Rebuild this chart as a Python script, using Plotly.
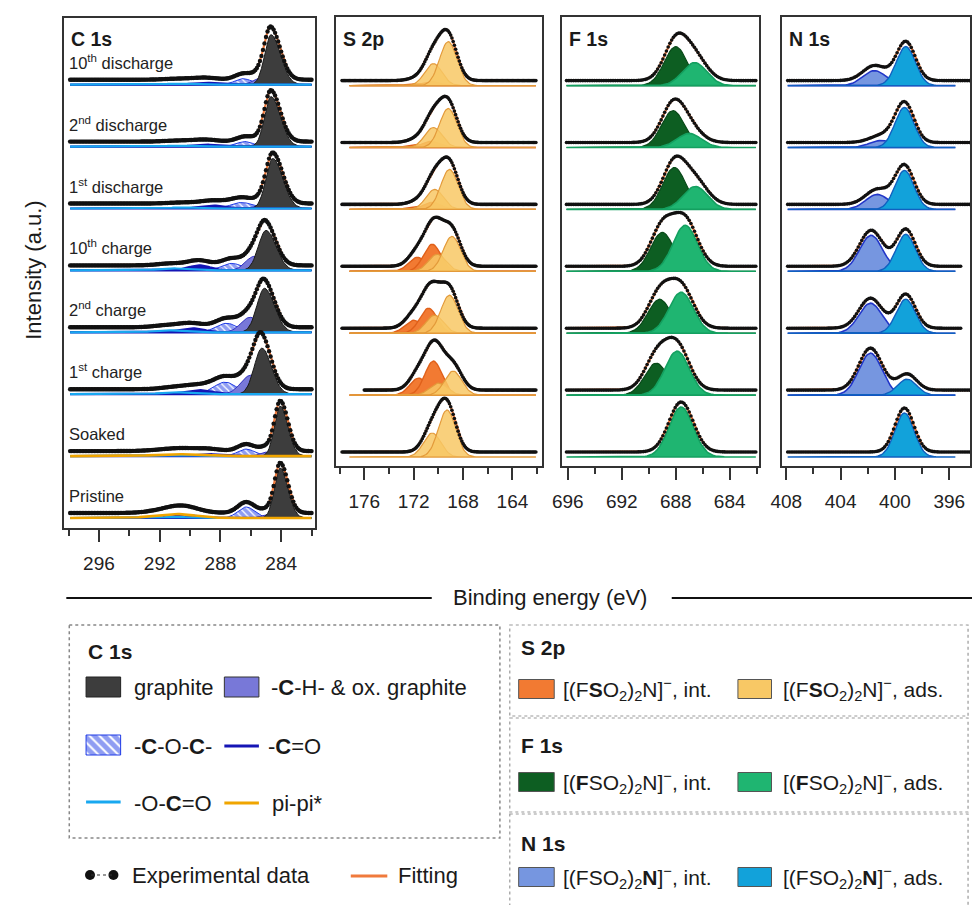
import numpy as np
import plotly.graph_objects as go

FONT = "Liberation Sans, Arial, Helvetica, sans-serif"
W, H = 972, 905

# ---------------- data (rows listed top -> bottom) ----------------
C_LABELS = ["10<sup>th</sup> discharge", "2<sup>nd</sup> discharge", "1<sup>st</sup> discharge",
            "10<sup>th</sup> charge", "2<sup>nd</sup> charge", "1<sup>st</sup> charge", "Soaked", "Pristine"]

# C 1s components: binding energy (eV), intensity (a.u.), widths (eV)
C_GRAPH_E = [284.67, 284.67, 284.55, 285.00, 285.10, 285.27, 284.06, 284.06]
C_GRAPH_I = [50, 50, 50, 40, 44, 46, 50, 50]
C_GRAPH_SH = [0.42, 0.42, 0.45, 0.50, 0.50, 0.50, 0.38, 0.38]
C_GRAPH_SL = [0.62, 0.62, 0.65, 0.65, 0.65, 0.62, 0.50, 0.50]
C_CH_E = [285.30, 285.30, 285.30, 285.80, 286.05, 286.00, 285.00, 285.00]
C_CH_I = [7, 3, 3, 14, 15, 19, 4, 3]
C_CH_S = [0.50, 0.50, 0.50, 0.55, 0.60, 0.65, 0.40, 0.40]
C_COC_E = [286.50, 286.40, 286.60, 287.25, 287.60, 287.70, 286.30, 286.30]
C_COC_I = [6, 5, 6, 7, 9, 12, 7, 11]
C_COC_S = [0.55, 0.55, 0.70, 0.65, 0.70, 0.75, 0.55, 0.55]
C_CO_E = [289.0, 289.0, 288.5, 289.4, 289.9, 289.4, 288.8, 290.3]
C_CO_I = [2, 2, 3, 5, 4, 4, 2, 3]
C_CO_S = [0.8, 0.8, 0.8, 0.7, 0.8, 0.9, 0.8, 0.9]
C_OCO_E = [290.8, 290.8, 290.5, 291.2, 291.5, 291.0, 290.5, 291.0]
C_OCO_I = [1, 1, 1, 2, 2, 2, 1, 1]
C_OCO_S = [0.9, 0.9, 0.9, 0.9, 0.9, 0.9, 0.9, 0.9]
C_PI_E = [None, None, None, None, None, None, 291.0, 291.0]
C_PI_I = [None, None, None, None, None, None, 2, 4]
C_PI_S = [None, None, None, None, None, None, 1.3, 1.3]

# S 2p doublets (rows: 10th dis, 2nd dis, 1st dis, 10th ch, 2nd ch, 1st ch, soaked)
S_ADS32_E = [169.2, 169.2, 169.1, 168.9, 169.1, 168.8, 169.3]
S_ADS32_I = [44, 39, 40, 35, 38, 24, 47]
S_ADS12_E = [170.4, 170.4, 170.3, 170.1, 170.3, 170.0, 170.5]
S_ADS12_I = [22, 20, 20, 17, 18, 12, 24]
S_INT32_E = [170.6, 170.6, 170.5, 170.5, 170.8, 170.4, None]
S_INT32_I = [4, 6, 7, 27, 25, 34, None]
S_INT12_E = [171.8, 171.8, 171.7, 171.7, 172.0, 171.6, None]
S_INT12_I = [2, 3, 3, 14, 13, 17, None]
S_SIGMA = 0.7
S_DATA_START = [177.8, 177.8, 177.8, 177.8, 177.8, 176.0, 177.8]

# F 1s
F_INT_E = [688.0, 688.2, 688.1, 689.0, 689.2, 689.45, None]
F_INT_I = [39, 37, 42, 39, 34, 32, None]
F_ADS_E = [686.6, 687.0, 686.55, 687.3, 687.6, 687.9, 687.6]
F_ADS_I = [23, 14, 23, 46, 41, 44, 50]
F_SIG_INT, F_SIG_ADS = 0.85, 0.9

# N 1s
N_INT_E = [401.5, 401.0, 401.3, 401.75, 401.8, 401.8, None]
N_INT_I = [15, 7, 15, 36, 30, 42, None]
N_ADS_E = [399.2, 399.3, 399.3, 399.2, 399.2, 399.1, 399.3]
N_ADS_I = [39, 40, 39, 37, 34, 16, 44]
N_SIG_INT, N_SIG_ADS = 0.85, 0.7
N_DATA_END = [394.5, 394.5, 394.5, 395.1, 395.1, 394.5, 394.5]

# ---------------- styling constants ----------------
STEP = 61.9     # vertical offset between stacked spectra
LIFT = 5        # data/fit drawn slightly above the components
FIT_COL = "#f07a3c"
COL = dict(graph=("#3d3d3d", "#1a1a1a"), ch=("#7878d8", "#3030c0"), coc=("#1f3be6", "#1f3be6"),
           co="#1515b5", oco="#18a8f0", pi="#f0a500",
           s_ads=("#f8c865", "#e39a3a"), s_int=("#f27a32", "#e0601a"),
           f_int=("#0d5e22", "#0a4a1a"), f_ads=("#1fb571", "#14a060"),
           n_int=("#7696e0", "#2236c8"), n_ads=("#12a2da", "#1060c0"))


def gauss(x, c, h, s_hi, s_lo=None):
    if s_lo is None:
        s_lo = s_hi
    s = np.where(x > c, s_hi, s_lo)
    return h * np.exp(-((x - c) ** 2) / (2 * s ** 2))


fig = go.Figure()
ann = []
shapes = []


def area(n, x, base, y, fill, line, lw=1.0, pattern=None):
    xs = np.concatenate([x, x[::-1]])
    ys = np.concatenate([base + y, np.full(len(x), base)])
    fig.add_trace(go.Scatter(x=xs, y=ys, mode="lines", fill="toself", fillcolor=fill,
                             line=dict(color=line, width=lw), fillpattern=pattern,
                             xaxis=f"x{n}", yaxis=f"y{n}", hoverinfo="skip", showlegend=False))


def curve(n, x, y, color, lw):
    fig.add_trace(go.Scatter(x=x, y=y, mode="lines", line=dict(color=color, width=lw),
                             xaxis=f"x{n}", yaxis=f"y{n}", hoverinfo="skip", showlegend=False))


def data(n, x, y, dense=False):
    fig.add_trace(go.Scatter(x=x, y=y, mode="lines", line=dict(color=FIT_COL, width=2.2),
                             xaxis=f"x{n}", yaxis=f"y{n}", hoverinfo="skip", showlegend=False))
    fig.add_trace(go.Scatter(x=x, y=y, mode="markers",
                             marker=dict(color="#111", size=4.4 if dense else 3.6),
                             xaxis=f"x{n}", yaxis=f"y{n}", hoverinfo="skip", showlegend=False))


HATCH = dict(shape="\\", fgcolor=COL["coc"][0], bgcolor="white", size=5, solidity=0.75)

# ---------------- C 1s ----------------
nC = len(C_LABELS)
xc = np.arange(297.9, 281.95, -0.1)
for i in range(nC):
    base = 15 + (nC - 1 - i) * STEP
    cb = base - LIFT
    env = np.zeros_like(xc)
    g = gauss(xc, C_COC_E[i], C_COC_I[i], C_COC_S[i]); env += g
    area(1, xc, cb, g, "white", COL["coc"][1], 1.0, pattern=HATCH)
    g = gauss(xc, C_CH_E[i], C_CH_I[i], C_CH_S[i]); env += g
    area(1, xc, cb, g, COL["ch"][0], COL["ch"][1], 1.0)
    g = gauss(xc, C_GRAPH_E[i], C_GRAPH_I[i], C_GRAPH_SH[i], C_GRAPH_SL[i]); env += g
    area(1, xc, cb, g, COL["graph"][0], COL["graph"][1], 1.0)
    g = gauss(xc, C_CO_E[i], C_CO_I[i], C_CO_S[i]); env += g
    area(1, xc, cb, g, COL["co"], COL["co"], 2.2)
    g = gauss(xc, C_OCO_E[i], C_OCO_I[i], C_OCO_S[i]); env += g
    curve(1, xc, cb + g, COL["oco"], 2.2)
    if C_PI_E[i] is not None:
        g = gauss(xc, C_PI_E[i], C_PI_I[i], C_PI_S[i]); env += g
        curve(1, xc, cb + g, COL["pi"], 2.6)
    data(1, xc, base + env, dense=True)
    ann.append(dict(x=298.1, y=base + 6, xref="x1", yref="y1", text=C_LABELS[i],
                    showarrow=False, xanchor="left", yanchor="bottom",
                    font=dict(size=16.5, color="#222", family=FONT)))

# ---------------- S 2p ----------------
nS = len(S_ADS32_E)
for i in range(nS):
    base = 14 + (nS - 1 - i) * STEP
    cb = base - LIFT
    xs = np.arange(177.2, 162.05, -0.1)
    if S_INT32_E[i] is not None:
        for e, h in ((S_INT12_E[i], S_INT12_I[i]), (S_INT32_E[i], S_INT32_I[i])):
            area(2, xs, cb, gauss(xs, e, h, S_SIGMA), COL["s_int"][0], COL["s_int"][1], 1.4)
    for e, h in ((S_ADS12_E[i], S_ADS12_I[i]), (S_ADS32_E[i], S_ADS32_I[i])):
        area(2, xs, cb, gauss(xs, e, h, S_SIGMA), "rgba(248,200,101,0.85)", COL["s_ads"][1], 1.2)
    xd = np.arange(S_DATA_START[i], 162.05, -0.1)
    envd = np.zeros_like(xd)
    for e, h in ((S_INT12_E[i], S_INT12_I[i]), (S_INT32_E[i], S_INT32_I[i]),
                 (S_ADS12_E[i], S_ADS12_I[i]), (S_ADS32_E[i], S_ADS32_I[i])):
        if e is not None:
            envd += gauss(xd, e, h, S_SIGMA)
    data(2, xd, base + envd)

# ---------------- F 1s ----------------
nF = len(F_ADS_E)
xf = np.arange(696.1, 682.05, -0.13)
for i in range(nF):
    base = 14 + (nF - 1 - i) * STEP
    cb = base - LIFT
    env = np.zeros_like(xf)
    if F_INT_E[i] is not None:
        g = gauss(xf, F_INT_E[i], F_INT_I[i], F_SIG_INT); env += g
        area(3, xf, cb, g, COL["f_int"][0], COL["f_int"][1], 1.2)
    g = gauss(xf, F_ADS_E[i], F_ADS_I[i], F_SIG_ADS); env += g
    area(3, xf, cb, g, COL["f_ads"][0], COL["f_ads"][1], 1.6)
    data(3, xf, base + env)

# ---------------- N 1s ----------------
nN = len(N_ADS_E)
for i in range(nN):
    base = 14 + (nN - 1 - i) * STEP
    cb = base - LIFT
    xb = np.arange(407.9, 395.45, -0.13)
    if N_INT_E[i] is not None:
        area(4, xb, cb, gauss(xb, N_INT_E[i], N_INT_I[i], N_SIG_INT), COL["n_int"][0], COL["n_int"][1], 1.6)
    area(4, xb, cb, gauss(xb, N_ADS_E[i], N_ADS_I[i], N_SIG_ADS), COL["n_ads"][0], COL["n_ads"][1], 1.4)
    xd = np.arange(407.9, N_DATA_END[i], -0.13)
    env = gauss(xd, N_ADS_E[i], N_ADS_I[i], N_SIG_ADS)
    if N_INT_E[i] is not None:
        env = env + gauss(xd, N_INT_E[i], N_INT_I[i], N_SIG_INT)
    data(4, xd, base + env)

# ---------------- axes ----------------
PANELS = {
    1: dict(px=(53, 307), py=(18, 528), rng=[298.28, 281.76], major=[296, 292, 288, 284],
            minor=[298, 294, 290, 286, 282], yr=[0, 510]),
    2: dict(px=(328.3, 536.7), py=(17, 466), rng=[178.27, 161.6], major=[176, 172, 168, 164],
            minor=[178, 174, 170, 166, 162], yr=[0, 449]),
    3: dict(px=(557.3, 756), py=(17, 466), rng=[696.4, 681.85], major=[696, 692, 688, 684],
            minor=[694, 690, 686, 682], yr=[0, 449]),
    4: dict(px=(780, 970), py=(17, 466), rng=[408.29, 394.47], major=[408, 404, 400, 396],
            minor=[406, 402, 398], yr=[0, 449]),
}
layout_axes = {}
for n, p in PANELS.items():
    layout_axes[f"xaxis{n}"] = dict(
        domain=[p["px"][0] / W, p["px"][1] / W], range=p["rng"], anchor=f"y{n}",
        tickmode="array", tickvals=p["major"], ticks="outside", ticklen=12, tickwidth=1.8,
        tickcolor="#333", ticklabelstandoff=5,
        minor=dict(tickmode="array", tickvals=p["minor"], ticks="outside", ticklen=6,
                   tickwidth=1.6, tickcolor="#333"),
        showline=True, linecolor="#333", linewidth=1.8, mirror=True, showgrid=False,
        zeroline=False, fixedrange=True, tickfont=dict(size=19, color="#222", family=FONT))
    layout_axes[f"yaxis{n}"] = dict(
        domain=[1 - p["py"][1] / H, 1 - p["py"][0] / H], range=p["yr"], anchor=f"x{n}",
        showline=True, linecolor="#333", linewidth=1.8, mirror=True, showgrid=False,
        zeroline=False, showticklabels=False, ticks="", fixedrange=True)

# overlay axis in pixel units for the figure furniture
layout_axes["xaxis5"] = dict(domain=[0, 1], range=[0, W], visible=False, anchor="y5", fixedrange=True)
layout_axes["yaxis5"] = dict(domain=[0, 1], range=[H, 0], visible=False, anchor="x5", fixedrange=True)


def text(x, y, s, size=22, bold=False, anchor="left", angle=0):
    ann.append(dict(x=x, y=y, xref="x5", yref="y5", text=f"<b>{s}</b>" if bold else s,
                    showarrow=False, xanchor=anchor, yanchor="middle", textangle=angle,
                    font=dict(size=size, color="#1a1a1a", family=FONT)))


def rect(x0, y0, x1, y1, fill, line="#333", lw=1, dash="solid"):
    shapes.append(dict(type="rect", xref="x5", yref="y5", x0=x0, y0=y0, x1=x1, y1=y1,
                       fillcolor=fill, line=dict(color=line, width=lw, dash=dash)))


def hline(x0, x1, y, color, lw=3, dash="solid"):
    shapes.append(dict(type="line", xref="x5", yref="y5", x0=x0, x1=x1, y0=y, y1=y,
                       line=dict(color=color, width=lw, dash=dash)))


# panel titles
for n, t in zip(PANELS, ["C 1s", "S 2p", "F 1s", "N 1s"]):
    text(PANELS[n]["px"][0] + 5, 39, t, size=19.5, bold=True)

text(21, 270, "Intensity (a.u.)", size=22, anchor="center", angle=-90)
text(545, 597, "Binding energy (eV)", size=22, anchor="center")
hline(55, 425, 598, "#111", 2)
hline(668, 972, 598, "#111", 2)

# C 1s legend box
rect(58, 625, 494, 838, "rgba(0,0,0,0)", "#888", 1.5, "dot")
text(75, 651, "C 1s", size=21, bold=True)
rect(75, 677, 110, 697, COL["graph"][0], "#222")
text(121, 687, "graphite")
rect(215, 677, 250, 697, COL["ch"][0], "#333")
text(260, 687, "-<b>C</b>-H- & ox. graphite")
fig.add_trace(go.Scatter(x=[75, 110, 110, 75, 75], y=[735, 735, 755, 755, 735], mode="lines",
                         fill="toself", fillcolor="white", line=dict(color=COL["coc"][0], width=1),
                         fillpattern=dict(shape="\\", fgcolor=COL["coc"][0], bgcolor="white",
                                          size=7, solidity=0.72),
                         xaxis="x5", yaxis="y5", hoverinfo="skip", showlegend=False))
text(121, 746, "-<b>C</b>-O-<b>C</b>-")
hline(215, 250, 746, COL["co"], 3)
text(257, 746, "-<b>C</b>=O")
hline(75, 110, 802, COL["oco"], 3)
text(121, 803, "-O-<b>C</b>=O")
hline(215, 250, 803, COL["pi"], 3)
text(261, 803, "pi-pi*")

# experimental data / fitting
hline(80, 102, 875, "#333", 1.2, "dot")
fig.add_trace(go.Scatter(x=[79, 102.7], y=[875, 875], mode="markers", marker=dict(color="#111", size=10),
                         xaxis="x5", yaxis="y5", hoverinfo="skip", showlegend=False))
text(119, 875, "Experimental data")
hline(343, 380, 876, FIT_COL, 3)
text(389, 875, "Fitting")

# anion legend boxes
rect(504, 625, 968, 716, "rgba(0,0,0,0)", "#999", 1.2, "dot")
rect(504, 718, 968, 812, "rgba(0,0,0,0)", "#999", 1.2, "dot")
rect(504, 814, 968, 912, "rgba(0,0,0,0)", "#999", 1.2, "dot")


def anion(bold, kind):
    f = "<b>F</b>" if bold == "F" else "F"
    s = "<b>S</b>" if bold == "S" else "S"
    n = "<b>N</b>" if bold == "N" else "N"
    return f"[({f}{s}O<sub>2</sub>)<sub>2</sub>{n}]<sup>−</sup>, {kind}"


for (title, ty, ry, bold, c_int, c_ads) in [
        ("S 2p", 647, 689, "S", COL["s_int"][0], COL["s_ads"][0]),
        ("F 1s", 745, 782, "F", COL["f_int"][0], COL["f_ads"][0]),
        ("N 1s", 843, 877, "N", COL["n_int"][0], COL["n_ads"][0])]:
    text(513, ty, title, size=21, bold=True)
    rect(513, ry - 9.5, 549, ry + 9.5, c_int, "#555")
    text(556, ry, anion(bold, "int."), size=21)
    rect(735, ry - 9.5, 769, ry + 9.5, c_ads, "#555")
    text(779, ry, anion(bold, "ads."), size=21)

fig.update_layout(width=W, height=H, margin=dict(l=0, r=0, t=0, b=0),
                  paper_bgcolor="white", plot_bgcolor="rgba(0,0,0,0)",
                  showlegend=False, annotations=ann, shapes=shapes,
                  font=dict(family=FONT, color="#222"), **layout_axes)

fig.write_html("out.html")
